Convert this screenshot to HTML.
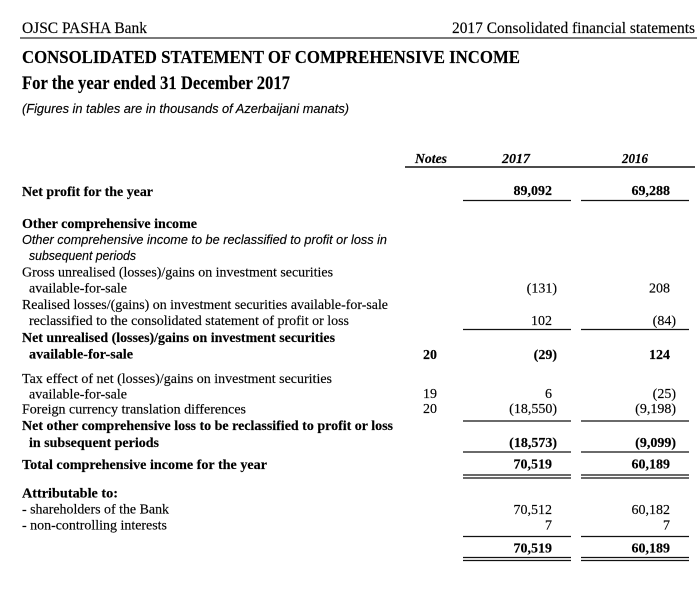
<!DOCTYPE html>
<html>
<head>
<meta charset="utf-8">
<style>
  html,body{margin:0;padding:0;background:#fff;}
  svg{display:block;}
  text{font-family:"Liberation Serif","Times New Roman",serif;fill:#000;stroke:#000;stroke-width:0.15;}
  .b{font-weight:bold;}
  .i{font-style:italic;}
  .s{font-family:"Liberation Sans",Arial,sans-serif;}
</style>
</head>
<body>
<svg width="700" height="603" viewBox="0 0 700 603" xmlns="http://www.w3.org/2000/svg">
  <rect width="700" height="603" fill="#fff"/>

  <!-- Page header -->
  <text x="22" y="33" font-size="16" textLength="125" lengthAdjust="spacingAndGlyphs">OJSC PASHA Bank</text>
  <text x="452" y="33" font-size="16" textLength="243" lengthAdjust="spacingAndGlyphs">2017 Consolidated financial statements</text>
  <line x1="20" y1="38" x2="697" y2="38" stroke="#7a7a7a" stroke-width="2"/>

  <text class="b" x="22" y="63" font-size="18" textLength="498" lengthAdjust="spacingAndGlyphs">CONSOLIDATED STATEMENT OF COMPREHENSIVE INCOME</text>
  <text class="b" x="22" y="89" font-size="18.5" textLength="268" lengthAdjust="spacingAndGlyphs">For the year ended 31 December 2017</text>
  <text class="i s" x="22" y="113" font-size="13" textLength="327" lengthAdjust="spacingAndGlyphs">(Figures in tables are in thousands of Azerbaijani manats)</text>

  <!-- Column headers -->
  <text class="b i" x="415" y="163" font-size="14" textLength="32" lengthAdjust="spacingAndGlyphs">Notes</text>
  <text class="b i" x="502" y="163" font-size="14" textLength="28" lengthAdjust="spacingAndGlyphs">2017</text>
  <text class="b i" x="622" y="163" font-size="14" textLength="26" lengthAdjust="spacingAndGlyphs">2016</text>
  <line x1="405" y1="167" x2="695" y2="167" stroke="#111" stroke-width="1.6"/>

  <!-- Net profit -->
  <text class="b" x="22" y="196" font-size="14" textLength="131" lengthAdjust="spacingAndGlyphs">Net profit for the year</text>
  <text class="b" x="552" y="195" font-size="14" text-anchor="end">89,092</text>
  <text class="b" x="670" y="195" font-size="14" text-anchor="end">69,288</text>
  <line x1="463" y1="200.5" x2="571" y2="200.5" stroke="#111" stroke-width="1.3"/>
  <line x1="581" y1="200.5" x2="689" y2="200.5" stroke="#111" stroke-width="1.3"/>

  <!-- Other comprehensive income -->
  <text class="b" x="22" y="228" font-size="14" textLength="175" lengthAdjust="spacingAndGlyphs">Other comprehensive income</text>
  <text class="i s" x="22" y="244" font-size="13" textLength="365" lengthAdjust="spacingAndGlyphs">Other comprehensive income to be reclassified to profit or loss in</text>
  <text class="i s" x="29" y="260" font-size="13" textLength="107" lengthAdjust="spacingAndGlyphs">subsequent periods</text>

  <text x="22" y="276.5" font-size="14" textLength="311" lengthAdjust="spacingAndGlyphs">Gross unrealised (losses)/gains on investment securities</text>
  <text x="29" y="292.5" font-size="14" textLength="98" lengthAdjust="spacingAndGlyphs">available-for-sale</text>
  <text x="557" y="292.5" font-size="14" text-anchor="end">(131)</text>
  <text x="670" y="292.5" font-size="14" text-anchor="end">208</text>

  <text x="22" y="309" font-size="14" textLength="366" lengthAdjust="spacingAndGlyphs">Realised losses/(gains) on investment securities available-for-sale</text>
  <text x="29" y="325" font-size="14" textLength="320" lengthAdjust="spacingAndGlyphs">reclassified to the consolidated statement of profit or loss</text>
  <text x="552" y="325" font-size="14" text-anchor="end">102</text>
  <text x="676" y="325" font-size="14" text-anchor="end">(84)</text>
  <line x1="463" y1="329.5" x2="571" y2="329.5" stroke="#111" stroke-width="1.3"/>
  <line x1="581" y1="329.5" x2="689" y2="329.5" stroke="#111" stroke-width="1.3"/>

  <text class="b" x="22" y="342" font-size="14" textLength="313" lengthAdjust="spacingAndGlyphs">Net unrealised (losses)/gains on investment securities</text>
  <text class="b" x="29" y="358.5" font-size="14" textLength="104" lengthAdjust="spacingAndGlyphs">available-for-sale</text>
  <text class="b" x="437" y="359" font-size="14" text-anchor="end">20</text>
  <text class="b" x="557" y="359" font-size="14" text-anchor="end">(29)</text>
  <text class="b" x="670" y="359" font-size="14" text-anchor="end">124</text>

  <text x="22" y="383" font-size="14" textLength="310" lengthAdjust="spacingAndGlyphs">Tax effect of net (losses)/gains on investment securities</text>
  <text x="29" y="398.5" font-size="14" textLength="98" lengthAdjust="spacingAndGlyphs">available-for-sale</text>
  <text x="437" y="398" font-size="14" text-anchor="end">19</text>
  <text x="552" y="398" font-size="14" text-anchor="end">6</text>
  <text x="676" y="398" font-size="14" text-anchor="end">(25)</text>

  <text x="22" y="413.5" font-size="14" textLength="224" lengthAdjust="spacingAndGlyphs">Foreign currency translation differences</text>
  <text x="437" y="413" font-size="14" text-anchor="end">20</text>
  <text x="557" y="413" font-size="14" text-anchor="end">(18,550)</text>
  <text x="676" y="413" font-size="14" text-anchor="end">(9,198)</text>
  <line x1="463" y1="421" x2="571" y2="421" stroke="#111" stroke-width="1.3"/>
  <line x1="581" y1="421" x2="689" y2="421" stroke="#111" stroke-width="1.3"/>

  <text class="b" x="22" y="430" font-size="14" textLength="371" lengthAdjust="spacingAndGlyphs">Net other comprehensive loss to be reclassified to profit or loss</text>
  <text class="b" x="29" y="447" font-size="14" textLength="130" lengthAdjust="spacingAndGlyphs">in subsequent periods</text>
  <text class="b" x="557" y="447" font-size="14" text-anchor="end">(18,573)</text>
  <text class="b" x="676" y="447" font-size="14" text-anchor="end">(9,099)</text>
  <line x1="463" y1="452" x2="571" y2="452" stroke="#111" stroke-width="1.3"/>
  <line x1="581" y1="452" x2="689" y2="452" stroke="#111" stroke-width="1.3"/>

  <text class="b" x="22" y="469" font-size="14" textLength="245" lengthAdjust="spacingAndGlyphs">Total comprehensive income for the year</text>
  <text class="b" x="552" y="468.5" font-size="14" text-anchor="end">70,519</text>
  <text class="b" x="670" y="468.5" font-size="14" text-anchor="end">60,189</text>
  <line x1="463" y1="475" x2="571" y2="475" stroke="#111" stroke-width="1.3"/>
  <line x1="463" y1="478" x2="571" y2="478" stroke="#111" stroke-width="1.3"/>
  <line x1="581" y1="475" x2="689" y2="475" stroke="#111" stroke-width="1.3"/>
  <line x1="581" y1="478" x2="689" y2="478" stroke="#111" stroke-width="1.3"/>

  <!-- Attributable -->
  <text class="b" x="22" y="497.5" font-size="14" textLength="96" lengthAdjust="spacingAndGlyphs">Attributable to:</text>
  <text x="22" y="513.5" font-size="14" textLength="147" lengthAdjust="spacingAndGlyphs">- shareholders of the Bank</text>
  <text x="552" y="514" font-size="14" text-anchor="end">70,512</text>
  <text x="670" y="514" font-size="14" text-anchor="end">60,182</text>
  <text x="22" y="529.5" font-size="14" textLength="145" lengthAdjust="spacingAndGlyphs">- non-controlling interests</text>
  <text x="552" y="529.5" font-size="14" text-anchor="end">7</text>
  <text x="670" y="529.5" font-size="14" text-anchor="end">7</text>
  <line x1="463" y1="536.5" x2="571" y2="536.5" stroke="#111" stroke-width="1.3"/>
  <line x1="581" y1="536.5" x2="689" y2="536.5" stroke="#111" stroke-width="1.3"/>

  <text class="b" x="552" y="552.5" font-size="14" text-anchor="end">70,519</text>
  <text class="b" x="670" y="552.5" font-size="14" text-anchor="end">60,189</text>
  <line x1="463" y1="557.5" x2="571" y2="557.5" stroke="#111" stroke-width="1.3"/>
  <line x1="463" y1="560.5" x2="571" y2="560.5" stroke="#111" stroke-width="1.3"/>
  <line x1="581" y1="557.5" x2="689" y2="557.5" stroke="#111" stroke-width="1.3"/>
  <line x1="581" y1="560.5" x2="689" y2="560.5" stroke="#111" stroke-width="1.3"/>
</svg>
</body>
</html>
